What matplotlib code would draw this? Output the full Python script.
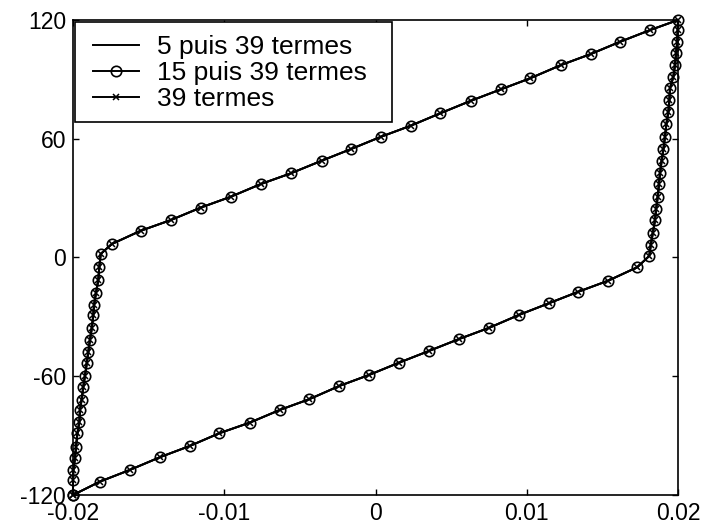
import matplotlib
matplotlib.use("Agg")
import matplotlib.pyplot as plt
from matplotlib.patches import Rectangle

plt.rcParams['font.family'] = ['Liberation Sans', 'DejaVu Sans']
plt.rcParams['axes.unicode_minus'] = False

# Loop points: lower branch (left->right), right steep part (bottom->top),
# upper branch (right->left), left steep part (top->bottom)
x_vals = [
    -0.02000, -0.01821, -0.01623, -0.01425, -0.01227, -0.01033, -0.00830, -0.00632,
    -0.00438, -0.00239, -0.00041, 0.00157, 0.00354, 0.00552, 0.00752, 0.00949,
    0.01147, 0.01341, 0.01539, 0.01731, 0.01810,
    0.01820, 0.01833, 0.01848, 0.01855, 0.01866, 0.01874, 0.01881, 0.01892,
    0.01903, 0.01914, 0.01923, 0.01936, 0.01943, 0.01947, 0.01969, 0.01980,
    0.01987, 0.01995, 0.01998, 0.02000,
    0.01815, 0.01617, 0.01423, 0.01225, 0.01021, 0.00830, 0.00631, 0.00426,
    0.00233, 0.00036, -0.00162, -0.00356, -0.00561, -0.00759, -0.00957, -0.01156,
    -0.01354, -0.01553, -0.01744,
    -0.01817, -0.01826, -0.01833, -0.01848, -0.01861, -0.01866, -0.01876, -0.01888,
    -0.01899, -0.01909, -0.01921, -0.01932, -0.01943, -0.01954, -0.01958, -0.01971,
    -0.01980, -0.01987, -0.01998, -0.02000, -0.02000,
]
y_vals = [
    -120.0, -113.2, -107.3, -100.9, -95.2, -88.8, -83.4, -77.0,
    -71.6, -64.9, -59.3, -53.1, -47.2, -41.2, -35.5, -29.0,
    -23.1, -17.3, -11.7, -4.9, 0.8,
    6.3, 12.2, 18.9, 24.3, 30.7, 37.1, 42.5, 48.9,
    54.6, 61.0, 67.4, 73.5, 79.5, 85.5, 91.3, 97.2,
    103.1, 109.0, 114.9, 120.0,
    114.9, 109.0, 102.8, 97.2, 90.5, 85.0, 79.2, 72.8,
    66.6, 61.0, 54.8, 48.9, 42.5, 37.1, 30.7, 25.2,
    18.9, 13.5, 6.8,
    1.8, -4.6, -11.4, -17.8, -24.0, -29.0, -35.8, -41.7,
    -47.6, -53.4, -59.8, -65.2, -71.9, -77.0, -82.9, -88.8,
    -95.6, -101.4, -107.3, -112.4, -120.0,
]

series_labels = ["5 puis 39 termes", "15 puis 39 termes", "39 termes"]
x_ticks = [-0.02, -0.01, 0, 0.01, 0.02]
x_tick_labels = ["-0.02", "-0.01", "0", "0.01", "0.02"]
y_ticks = [-120, -60, 0, 60, 120]
y_tick_labels = ["-120", "-60", "0", "60", "120"]

fig = plt.figure(figsize=(7.07, 5.29), dpi=100)
ax = fig.add_axes([0.1033, 0.0643, 0.8557, 0.8979])

ax.plot(x_vals, y_vals, '-', color='black', lw=1.4, label=series_labels[0])
ax.plot(x_vals, y_vals, '-o', color='black', lw=1.4, ms=7.5, mfc='none', mew=1.2,
        label=series_labels[1], clip_on=False)
ax.plot(x_vals, y_vals, '-x', color='black', lw=1.4, ms=4.5, mew=1.1,
        label=series_labels[2], clip_on=False)

ax.set_xlim(-0.02, 0.02)
ax.set_ylim(-120, 120)
ax.set_xticks(x_ticks)
ax.set_xticklabels(x_tick_labels)
ax.set_yticks(y_ticks)
ax.set_yticklabels(y_tick_labels)
ax.tick_params(direction='in', top=True, right=True, length=4, width=1,
               labelsize=16.5)
ax.tick_params(axis='x', pad=5)
ax.tick_params(axis='y', pad=5)
for s in ax.spines.values():
    s.set_linewidth(1.2)

# legend box
box = Rectangle((0.0033, 0.7853), 0.5237, 0.2105, transform=ax.transAxes,
                facecolor='white', edgecolor='black', lw=1.2, zorder=4,
                clip_on=False)
ax.add_patch(box)

leg = ax.legend(loc='upper left', bbox_to_anchor=(0.0331, 0.968), fontsize=19,
                frameon=False, handlelength=1.75, handletextpad=0.68, borderpad=0,
                labelspacing=0.08, borderaxespad=0)
leg.set_zorder(5)

fig.savefig("out.png", dpi=100)
